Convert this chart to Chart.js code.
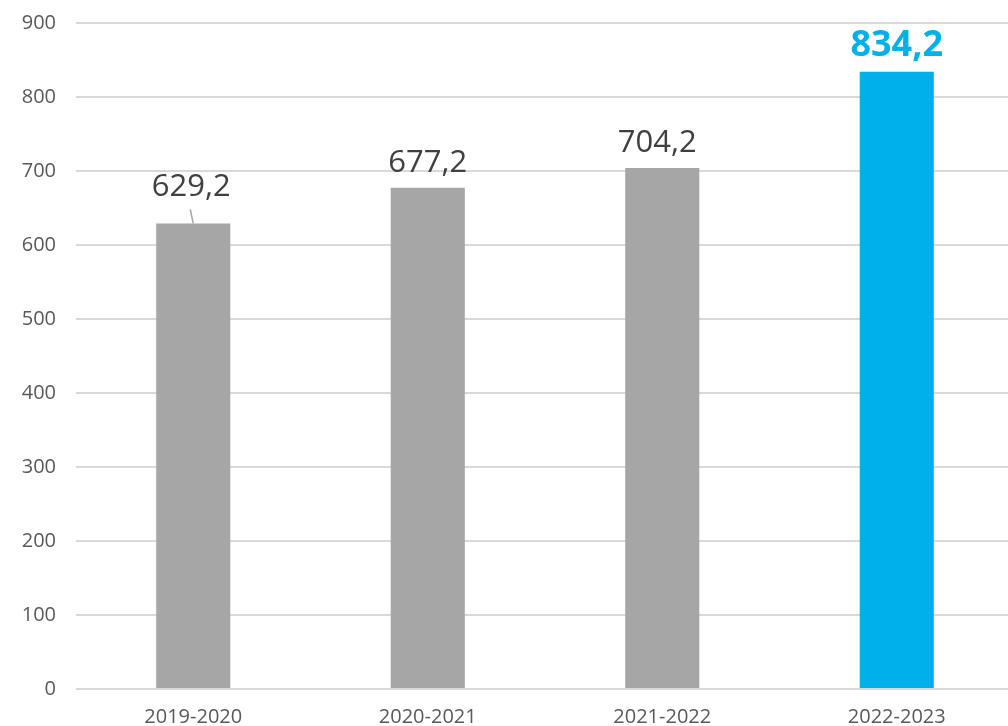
<!DOCTYPE html>
<html>
<head>
  <meta charset="UTF-8">
  <title>Values by year</title>
  <script src="https://cdn.jsdelivr.net/npm/chart.js"></script>
  <style>
    body { margin: 0; overflow: hidden; background: #fff; }
    #wrap { width: 1014px; height: 726px; }
  </style>
</head>
<body>
  <div id="wrap"><canvas id="chart" width="1014" height="726"></canvas></div>

  <script>
    const years = ["2019-2020", "2020-2021", "2021-2022", "2022-2023"];
    const values = [629.2, 677.2, 704.2, 834.2];
    const labels = ["629,2", "677,2", "704,2", "834,2"];
    const yTicks = [0, 100, 200, 300, 400, 500, 600, 700, 800, 900];

    const gray = "#a6a6a6";
    const blue = "#00b0e8";
    const barColors = values.map((v, i) => (i === values.length - 1 ? blue : gray));

    // draws the value above each bar, the first one with a small leader line
    const valueLabels = {
      id: "valueLabels",
      afterDatasetsDraw(chart) {
        const ctx = chart.ctx;
        const bars = chart.getDatasetMeta(0).data;
        ctx.save();
        ctx.textAlign = "center";
        ctx.textBaseline = "middle";
        bars.forEach((bar, i) => {
          const last = i === bars.length - 1;
          let y = bar.y - 25;
          let x = bar.x;
          if (i === 0) {
            y = bar.y - 36;
            x = bar.x - 2;
            ctx.strokeStyle = gray;
            ctx.lineWidth = 1.5;
            ctx.beginPath();
            ctx.moveTo(bar.x, bar.y);
            ctx.lineTo(bar.x - 3, bar.y - 14);
            ctx.stroke();
          }
          if (i === 2) x = bar.x - 5;
          if (last) {
            ctx.font = "700 36px 'Open Sans'";
            ctx.fillStyle = blue;
            y = bar.y - 26;
          } else {
            ctx.font = "400 31px 'Open Sans'";
            ctx.fillStyle = "#404040";
          }
          ctx.fillText(labels[i], x, y);
        });
        ctx.restore();
      }
    };

    new Chart(document.getElementById("chart").getContext("2d"), {
      type: "bar",
      data: {
        labels: years,
        datasets: [{
          data: values,
          backgroundColor: barColors,
          categoryPercentage: 1,
          barPercentage: 0.316
        }]
      },
      options: {
        responsive: false,
        animation: false,
        layout: { padding: { top: 23, right: 0, left: 0, bottom: 0 } },
        plugins: { legend: { display: false }, tooltip: { enabled: false } },
        scales: {
          x: {
            grid: { display: false, drawTicks: false },
            border: { display: false },
            ticks: { color: "#595959", font: { family: "Open Sans", size: 20 }, padding: 16 },
            afterFit(scale) { scale.height = 37; }
          },
          y: {
            min: 0,
            max: 900,
            afterBuildTicks(scale) { scale.ticks = yTicks.map(v => ({ value: v })); },
            grid: { color: "#d9d9d9", lineWidth: 2, drawTicks: false },
            border: { display: false },
            ticks: { color: "#595959", font: { family: "Open Sans", size: 20 }, padding: 20 },
            afterFit(scale) {
              scale.width = 76;
              scale.paddingTop = 0;
              scale.paddingBottom = 0;
            }
          }
        }
      },
      plugins: [valueLabels]
    });
  </script>
</body>
</html>
